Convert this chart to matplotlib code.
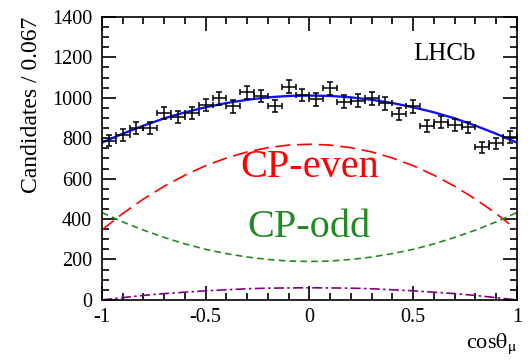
import numpy as np
import matplotlib
matplotlib.use("Agg")
import matplotlib.pyplot as plt
from matplotlib.ticker import MultipleLocator

plt.rcParams['font.family'] = ['Liberation Serif', 'DejaVu Serif']
plt.rcParams['mathtext.fontset'] = 'stix'

# binned data, 30 bins of width 0.067 in cos(theta_mu)
bin_centers = np.linspace(-1 + 1 / 30, 1 - 1 / 30, 30)
counts = [787, 816, 850, 850, 924, 904, 924, 965, 998, 957,
          1027, 1009, 960, 1055, 1014, 993, 1047, 981, 986, 998,
          973, 920, 957, 861, 882, 866, 853, 756, 775, 805]

# fit components read at steps of 0.1
curve_x = [-1.0, -0.9, -0.8, -0.7, -0.6, -0.5, -0.4, -0.3, -0.2, -0.1, 0.0,
           0.1, 0.2, 0.3, 0.4, 0.5, 0.6, 0.7, 0.8, 0.9, 1.0]
total = [778, 822, 862, 898, 928, 953, 974, 990, 1002, 1009, 1011,
         1009, 1002, 990, 974, 953, 928, 898, 862, 822, 778]
cp_even = [346, 427, 499, 562, 617, 664, 702, 732, 753, 766, 770,
           766, 753, 732, 702, 664, 617, 562, 499, 427, 346]
cp_odd = [432, 386, 345, 309, 277, 250, 229, 212, 200, 192, 190,
          192, 200, 212, 229, 250, 277, 309, 345, 386, 432]
interf = [0, 11, 22, 31, 38, 45, 50, 55, 58, 59, 60,
          59, 58, 55, 50, 45, 38, 31, 22, 11, 0]

fig = plt.figure(figsize=(5.28, 3.6), dpi=100)
ax = fig.add_axes([0.193, 0.167, 0.786, 0.786])

ax.plot(curve_x, cp_even, color='#ff0000', lw=1.2, dashes=(9, 4))
ax.plot(curve_x, cp_odd, color='#228b22', lw=1.2, dashes=(4, 2.5))
ax.plot(curve_x, interf, color='#800080', lw=1.2, dashes=(6, 2, 1.5, 2))
ax.plot(curve_x, total, color='#1010ff', lw=1.7)
ax.errorbar(bin_centers, counts, yerr=np.sqrt(counts), xerr=1 / 30,
            fmt='none', ecolor='black', elinewidth=1.1, capsize=2, capthick=1.1)

ax.text(0.0, 610, 'CP-even', color='#ff0000', fontsize=29, ha='center')
ax.text(0.0, 313, 'CP-odd', color='#228b22', fontsize=29, ha='center')
ax.text(0.5, 1187, 'LHCb', fontsize=18)

ax.set_xlim(-1, 1)
ax.set_ylim(0, 1400)
ax.xaxis.set_major_locator(MultipleLocator(0.5))
ax.xaxis.set_minor_locator(MultipleLocator(0.1))
ax.yaxis.set_major_locator(MultipleLocator(200))
ax.yaxis.set_minor_locator(MultipleLocator(50))
ax.xaxis.set_major_formatter(plt.FuncFormatter(lambda v, p: '%g' % v))
ax.tick_params(which='both', direction='in', top=True, right=True, labelsize=14.5, width=1.2)
ax.tick_params(which='major', length=10)
ax.tick_params(which='minor', length=5)
ax.tick_params(axis='x', pad=6)
ax.tick_params(axis='y', pad=7)
for s in ax.spines.values():
    s.set_linewidth(1.2)

ax.set_ylabel('Candidates / 0.067', fontsize=17, loc='top', labelpad=7)
ax.set_xlabel(r'cos$\mathrm{\theta}_{\mathrm{\mu}}$', fontsize=16, loc='right', labelpad=3)

fig.savefig('out.png', dpi=100)
